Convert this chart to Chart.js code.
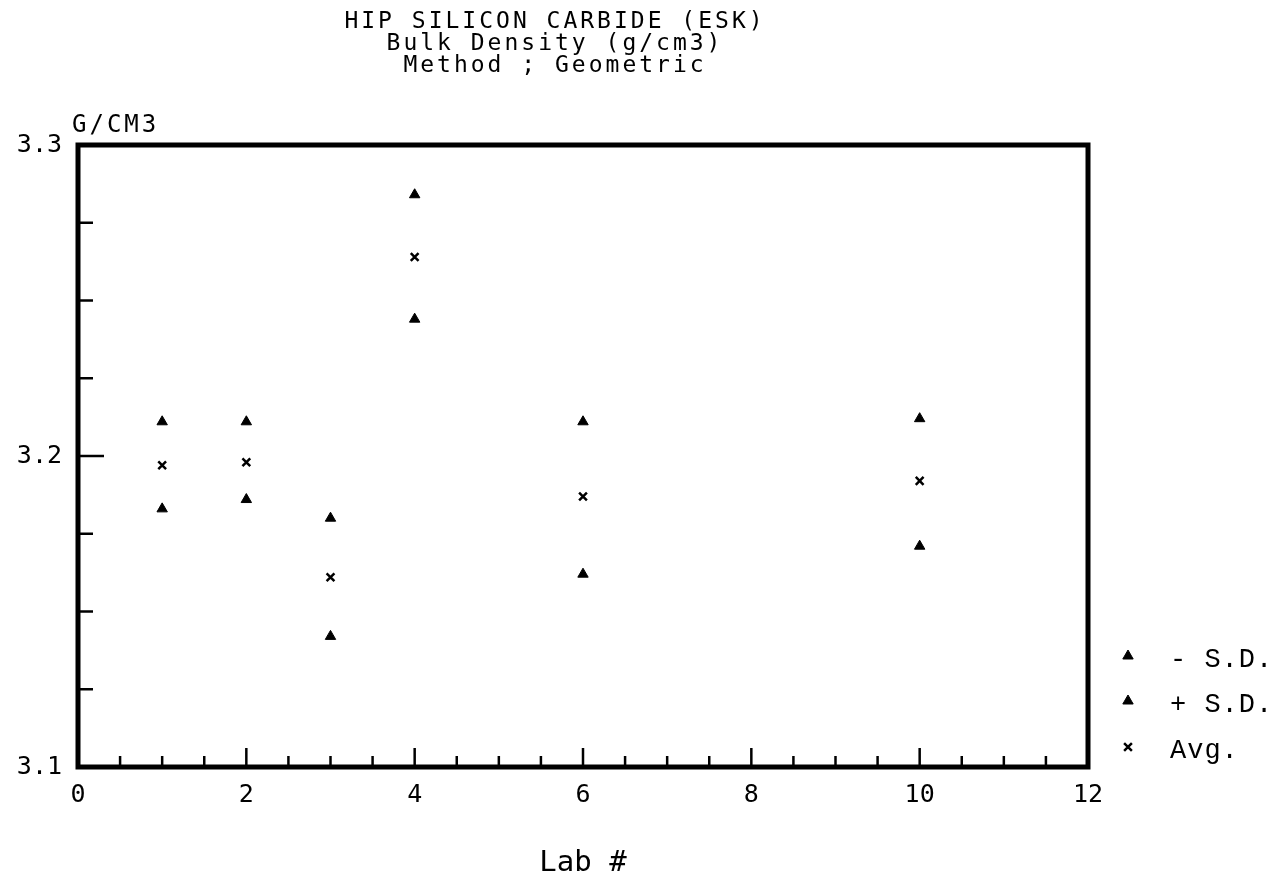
<!DOCTYPE html>
<html>
<head>
<meta charset="utf-8">
<script src="https://cdn.jsdelivr.net/npm/chart.js@4/dist/chart.umd.min.js"></script>
<style>
  body { margin: 0; background: #fff; }
  canvas { display: block; }
</style>
</head>
<body>
<canvas id="densityChart" width="1285" height="884"></canvas>
<script>
// lab numbers and bulk density readings (g/cm3)
var labs = [1, 2, 3, 4, 6, 10];
var minusSD = [3.183, 3.186, 3.142, 3.244, 3.162, 3.171];
var plusSD = [3.211, 3.211, 3.180, 3.284, 3.211, 3.212];
var avg = [3.197, 3.198, 3.161, 3.264, 3.187, 3.192];

var titleLines = ["HIP SILICON CARBIDE (ESK)", "Bulk Density (g/cm3)", "Method ; Geometric"];
var yUnit = "G/CM3";
var xTitle = "Lab #";

var plotFont = "'DejaVu Sans Mono', monospace";

function points(vals) {
    return labs.map(function (lab, i) { return { x: lab, y: vals[i] }; });
}

// frame, inward ticks, titles and legend
var plotterDecor = {
    id: "plotterDecor",
    afterDraw: function (chart) {
        var ctx = chart.ctx;
        var a = chart.chartArea;
        var xs = chart.scales.x, ys = chart.scales.y;
        ctx.save();
        ctx.strokeStyle = "#000";
        ctx.lineCap = "butt";

        // y ticks every 0.025, longer at 0.1
        ctx.lineWidth = 2.5;
        for (var k = 0; k <= 8; k++) {
            var v = 3.1 + k * 0.025;
            var py = ys.getPixelForValue(v);
            var len = (k % 4 === 0) ? 26 : 15;
            ctx.beginPath();
            ctx.moveTo(a.left, py);
            ctx.lineTo(a.left + len, py);
            ctx.stroke();
        }
        // x ticks every 0.5, longer at 2
        for (var j = 0; j <= 24; j++) {
            var px = xs.getPixelForValue(j * 0.5);
            var lenX = (j % 4 === 0) ? 19 : 11;
            ctx.beginPath();
            ctx.moveTo(px, a.bottom);
            ctx.lineTo(px, a.bottom - lenX);
            ctx.stroke();
        }

        // frame
        ctx.lineWidth = 5;
        ctx.strokeRect(a.left, a.top, a.right - a.left, a.bottom - a.top);

        // titles
        ctx.fillStyle = "#000";
        ctx.textBaseline = "alphabetic";
        ctx.textAlign = "center";
        ctx.font = "23px " + plotFont;
        ctx.letterSpacing = "3px";
        var baselines = [28, 50, 72];
        titleLines.forEach(function (t, i) {
            ctx.fillText(t, 555, baselines[i]);
        });

        ctx.textAlign = "left";
        ctx.font = "24px " + plotFont;
        ctx.letterSpacing = "3px";
        ctx.fillText(yUnit, 72, 132);

        // legend
        ctx.font = "27px 'Liberation Mono', monospace";
        ctx.letterSpacing = "1px";
        var rowsY = [656, 701, 747];
        chart.data.datasets.forEach(function (ds, i) {
            ctx.fillStyle = "#000";
            ctx.strokeStyle = "#000";
            ctx.lineWidth = ds.pointBorderWidth;
            Chart.helpers.drawPoint(ctx, {
                pointStyle: ds.pointStyle,
                radius: ds.pointRadius,
                rotation: 0,
                borderWidth: ds.pointBorderWidth
            }, 1128, rowsY[i]);
            ctx.fillText(ds.label, 1170, rowsY[i] + 11);
        });
        ctx.restore();
    }
};

var ctx = document.getElementById("densityChart").getContext("2d");
new Chart(ctx, {
    type: "scatter",
    data: {
        datasets: [{
            label: "- S.D.",
            data: points(minusSD),
            pointStyle: "triangle",
            pointRadius: 6,
            pointBorderWidth: 1,
            backgroundColor: "#000",
            borderColor: "#000"
        }, {
            label: "+ S.D.",
            data: points(plusSD),
            pointStyle: "triangle",
            pointRadius: 6,
            pointBorderWidth: 1,
            backgroundColor: "#000",
            borderColor: "#000"
        }, {
            label: "Avg.",
            data: points(avg),
            pointStyle: "crossRot",
            pointRadius: 5.5,
            pointBorderWidth: 2.5,
            backgroundColor: "#000",
            borderColor: "#000"
        }]
    },
    options: {
        responsive: false,
        animation: false,
        devicePixelRatio: 1,
        layout: {
            padding: { top: 145, right: 197, bottom: 0, left: 0 }
        },
        scales: {
            x: {
                type: "linear",
                min: 0,
                max: 12,
                grid: { display: false, drawTicks: false },
                border: { display: false },
                ticks: {
                    stepSize: 2,
                    padding: 13,
                    color: "#000",
                    font: { family: plotFont, size: 25 }
                },
                title: {
                    display: true,
                    text: xTitle,
                    color: "#000",
                    padding: { top: 0, bottom: 3 },
                    font: { family: plotFont, size: 29 }
                },
                afterFit: function (scale) { scale.height = 117; }
            },
            y: {
                min: 3.1,
                max: 3.3,
                grid: { display: false, drawTicks: false },
                border: { display: false },
                ticks: {
                    stepSize: 0.025,
                    padding: 16,
                    color: "#000",
                    font: { family: plotFont, size: 25 },
                    callback: function (v) {
                        var t = v * 10;
                        return Math.abs(t - Math.round(t)) < 1e-6 ? v.toFixed(1) : "";
                    }
                },
                afterFit: function (scale) { scale.width = 78; }
            }
        },
        plugins: {
            legend: { display: false },
            tooltip: { enabled: false }
        }
    },
    plugins: [plotterDecor]
});
</script>
</body>
</html>
